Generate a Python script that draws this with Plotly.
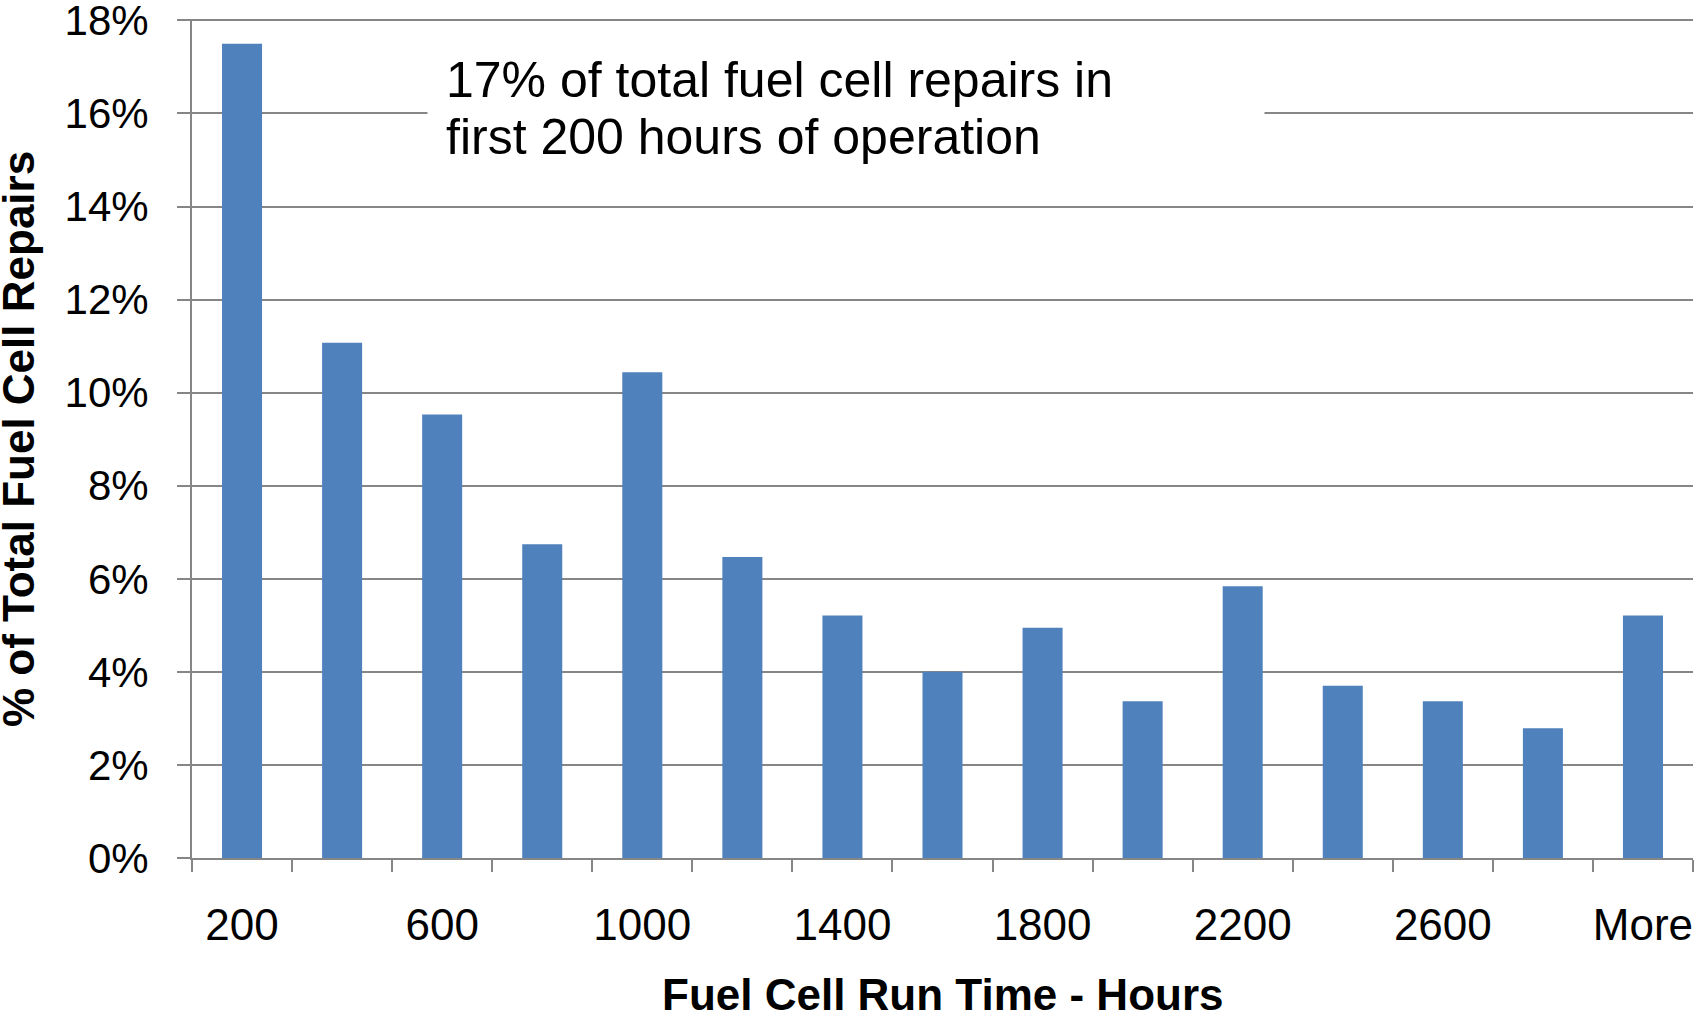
import plotly.graph_objects as go

categories = ["200", "400", "600", "800", "1000", "1200", "1400", "1600",
              "1800", "2000", "2200", "2400", "2600", "2800", "More"]
values = [17.5, 11.07, 9.53, 6.74, 10.44, 6.47, 5.21, 4.0,
          4.95, 3.37, 5.84, 3.70, 3.37, 2.79, 5.21]
tick_labels = ["200", "", "600", "", "1000", "", "1400", "",
               "1800", "", "2200", "", "2600", "", "More"]
y_ticks = [0, 2, 4, 6, 8, 10, 12, 14, 16, 18]

FONT = "Liberation Sans, Arial, sans-serif"
GRID = "#868686"

fig = go.Figure()
fig.add_trace(go.Bar(x=categories, y=values, marker_color="#4F81BD",
                     marker_line_width=0))

W, H = 1696, 1015
L, R, T, B = 192, 3, 19, 157
pw = W - L - R
ph = H - T - B

def px_x(x):
    return (x - L) / pw

def px_y(y):
    return (H - B - y) / ph

fig.update_layout(
    width=W, height=H,
    margin=dict(l=L, r=R, t=T, b=B, pad=0, autoexpand=False),
    plot_bgcolor="white", paper_bgcolor="white",
    bargap=0.6,
    showlegend=False,
    font=dict(family=FONT, color="black"),
)
fig.update_xaxes(
    type="category",
    tickmode="array", tickvals=categories, ticktext=tick_labels,
    tickson="boundaries", tickangle=0,
    ticks="outside", ticklen=12, tickwidth=2, tickcolor=GRID,
    showline=True, linecolor=GRID, linewidth=2,
    showgrid=False, automargin=False,
    tickfont=dict(size=44, family=FONT, color="black"),
    ticklabelstandoff=27,
)
fig.update_yaxes(
    range=[0, 18.03],
    tickmode="array", tickvals=y_ticks,
    ticktext=[f"{v}%" for v in y_ticks],
    ticks="outside", ticklen=13, tickwidth=2, tickcolor=GRID,
    showline=True, linecolor=GRID, linewidth=2,
    showgrid=True, gridcolor=GRID, gridwidth=2,
    zeroline=False, automargin=False,
    tickfont=dict(size=42, family=FONT, color="black"),
    ticklabelstandoff=20,
    ticklabeloverflow="allow",
)

# white box behind the note, hiding the gridline
fig.add_annotation(text=" ", xref="paper", yref="paper",
                   x=px_x(427), y=px_y(52), xanchor="left", yanchor="top",
                   width=836, height=110, bgcolor="white", borderpad=0,
                   showarrow=False, font=dict(size=10))

fig.add_annotation(text="17% of total fuel cell repairs in",
                   xref="paper", yref="paper", x=px_x(444), y=px_y(80),
                   xanchor="left", yanchor="middle", showarrow=False,
                   font=dict(size=50, family=FONT, color="black"))
fig.add_annotation(text="first 200 hours of operation",
                   xref="paper", yref="paper", x=px_x(444), y=px_y(137),
                   xanchor="left", yanchor="middle", showarrow=False,
                   font=dict(size=50, family=FONT, color="black"))

fig.add_annotation(text="<b>Fuel Cell Run Time - Hours</b>",
                   xref="paper", yref="paper", x=px_x(942), y=px_y(994),
                   xanchor="center", yanchor="middle", showarrow=False,
                   font=dict(size=44, family=FONT, color="black"))
fig.add_annotation(text="<b>% of Total Fuel Cell Repairs</b>",
                   xref="paper", yref="paper", x=px_x(18), y=px_y(439),
                   xanchor="center", yanchor="middle", showarrow=False,
                   textangle=-90,
                   font=dict(size=44, family=FONT, color="black"))

fig.write_html(
    "out.html",
    config={"displayModeBar": False},
    post_script="document.body.style.margin='0';document.body.style.overflow='hidden';",
)
